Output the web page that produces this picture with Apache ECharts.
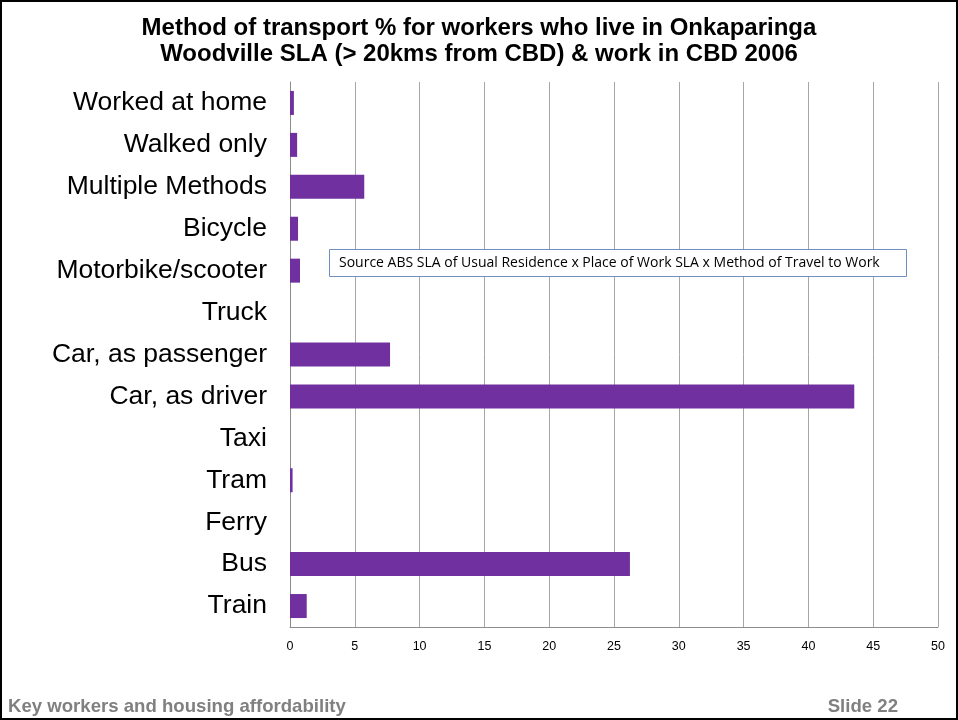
<!DOCTYPE html>
<html>
<head>
<meta charset="utf-8">
<script src="https://cdn.jsdelivr.net/npm/echarts@6/dist/echarts.min.js"></script>
<style>html,body{margin:0;padding:0;background:#fff;}#c{width:958px;height:720px;}</style>
</head>
<body>
<div id="c"></div>
<script>
var categories = ['Worked at home','Walked only','Multiple Methods','Bicycle','Motorbike/scooter','Truck','Car, as passenger','Car, as driver','Taxi','Tram','Ferry','Bus','Train'];
var values = [0.3, 0.55, 5.73, 0.62, 0.77, 0, 7.72, 43.54, 0, 0.2, 0, 26.23, 1.29];
var titleLines = ['Method of transport % for workers who live in Onkaparinga','Woodville SLA (> 20kms from CBD) & work in CBD 2006'];
var sourceNote = 'Source ABS SLA of Usual Residence x Place of Work SLA x Method of Travel to Work';
var footerLeft = 'Key workers and housing affordability';
var footerRight = 'Slide 22';

var chart = echarts.init(document.getElementById('c'), null, {renderer:'canvas'});
chart.setOption({
  animation: false,
  backgroundColor: '#fff',
  title: {
    text: titleLines.join('\n'),
    left: 'center', top: 10,
    textStyle: {fontFamily: 'Liberation Sans, Arial', fontWeight: 'bold', fontSize: 24, color: '#000', lineHeight: 26}
  },
  grid: {left: 290, right: 20, top: 82, bottom: 93, containLabel: false},
  xAxis: {
    type: 'value', min: 0, max: 50, interval: 5,
    axisLine: {show: true, lineStyle: {color: '#8c8c8c'}},
    axisTick: {show: false},
    splitLine: {show: true, lineStyle: {color: '#a6a6a6', width: 1}},
    axisLabel: {fontFamily: 'Liberation Sans, Arial', fontSize: 12.5, color: '#000', margin: 13}
  },
  yAxis: {
    type: 'category', data: categories, inverse: true,
    axisLine: {show: true, lineStyle: {color: '#8c8c8c'}},
    axisTick: {show: false},
    axisLabel: {fontFamily: 'Liberation Sans, Arial', fontSize: 26.5, color: '#000', margin: 23, padding: [4, 0, 0, 0]}
  },
  series: [{
    type: 'bar', data: values, barWidth: 24,
    itemStyle: {color: '#7030a0'}
  }],
  graphic: [
    {type: 'rect', shape: {x: 1, y: 1, width: 956, height: 718}, style: {fill: 'none', stroke: '#000', lineWidth: 2}, z: 100},
    {type: 'rect', shape: {x: 329.5, y: 249.5, width: 577, height: 27}, style: {fill: '#fff', stroke: '#6f8fc0', lineWidth: 1}, z: 50},
    {type: 'text', left: 339, top: 256, style: {text: sourceNote, font: '14px "Open Sans", "Noto Sans", sans-serif', fill: '#000'}, z: 51},
    {type: 'text', left: 8, top: 697, style: {text: footerLeft, font: 'bold 18.6px "Liberation Sans", Arial', fill: '#808080'}, z: 51},
    {type: 'text', right: 60, top: 697, style: {text: footerRight, font: 'bold 18.6px "Liberation Sans", Arial', fill: '#808080'}, z: 51}
  ]
});
</script>
</body>
</html>
